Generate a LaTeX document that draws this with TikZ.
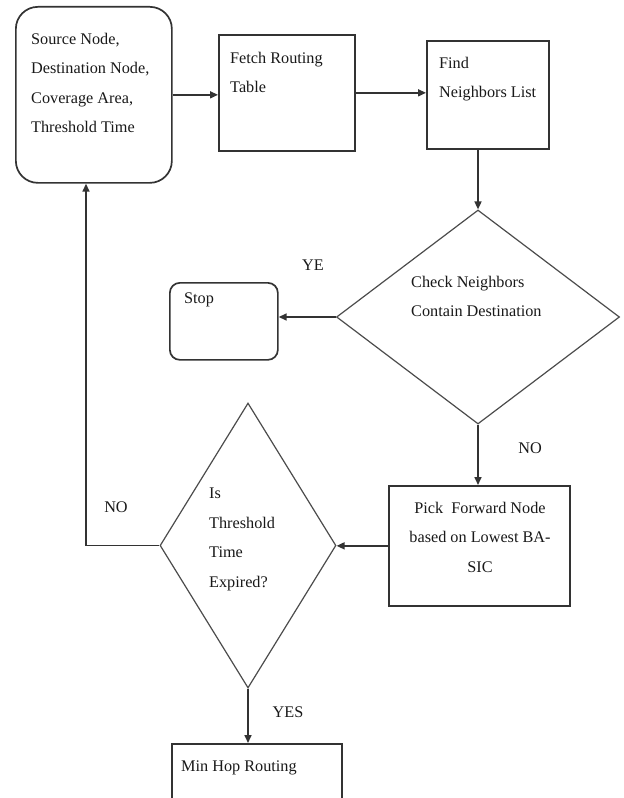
\documentclass[tikz,border=0pt]{standalone}
\usepackage{fontspec}
\setmainfont{Liberation Serif}
\usetikzlibrary{arrows.meta,shapes.geometric}
\begin{document}
\begin{tikzpicture}[x=1bp,y=-1bp,
  box/.style={draw=black!80, line width=1.7bp, inner sep=0, anchor=north west},
  dia/.style={diamond, draw=black!70, line width=1.2bp, inner sep=0},
  txt/.style={inner sep=0, anchor=north west, align=left, text=black!90, font=\fontsize{16.3}{29.5}\selectfont},
  lbl/.style={inner sep=0, text=black!90, font=\fontsize{16.3}{19}\selectfont},
  arr/.style={draw=black!80, line width=1.6bp, -{Triangle[length=8bp,width=7bp]}},
  ln/.style={draw=black!80, line width=1.6bp}]
\useasboundingbox (0,0) rectangle (624,798);
\clip (0,0) rectangle (624,798);
\fill[white] (0,0) rectangle (624,798);

% boxes
\node[box, rounded corners=22bp, minimum width=156bp, minimum height=176bp] (src) at (15,6) {};
\node[box, minimum width=136bp, minimum height=116bp] (fetch) at (218,34) {};
\node[box, minimum width=122bp, minimum height=108bp] (find) at (426,40) {};
\node[box, rounded corners=10bp, minimum width=108bp, minimum height=77bp] (stop) at (169,282) {};
\node[box, minimum width=181bp, minimum height=120bp] (pick) at (388,485) {};
\node[box, minimum width=170bp, minimum height=100bp] (mh) at (171,743) {};

% decisions
\node[dia, minimum width=283bp, minimum height=214bp] (d1) at (478,317) {};
\node[dia, minimum width=176bp, minimum height=285bp] (d2) at (248,545.5) {};

% texts
\node[txt] (srct) at (31,33) {Source Node,\\Destination Node,\\Coverage Area,\\Threshold Time};
\node[txt] (fetcht) at (230,52) {Fetch Routing\\Table};
\node[txt] (findt) at (439,57) {Find\\Neighbors List};
\node[txt] (checkt) at (411,276) {Check Neighbors\\Contain Destination};
\node[txt] (stopt) at (184,293) {Stop};
\node[txt] (d2t) at (209,488) {Is\\Threshold\\Time\\Expired?};
\node[txt, anchor=north, align=center] (pickt) at (480,502) {Pick\ \ Forward Node\\based on Lowest BA-\\SIC};
\node[txt] (mht) at (181,761) {Min Hop Routing};

% labels
\node[lbl] (ye) at (313,265) {YE};
\node[lbl] (no1) at (530,448) {NO};
\node[lbl] (no2) at (116,507) {NO};
\node[lbl] (yes) at (288,712) {YES};

% connectors
\draw[arr] (src.east) -- (src.east -| fetch.west);
\draw[arr] (fetch.east) -- (fetch.east -| find.west);
\draw[arr] (d1.north |- find.south) -- (d1.north);
\draw[arr] (d1.west) -- (d1.west -| stop.east);
\draw[arr] (d1.south) -- (d1.south |- pick.north);
\draw[arr] (pick.west) -- (pick.west -| d2.east);
\coordinate (turn) at (86,545.5);
\draw[arr] (d2.west) -- (turn) -- (turn |- src.south);
\draw[arr] (d2.south) -- (d2.south |- mh.north);
\end{tikzpicture}
\end{document}
